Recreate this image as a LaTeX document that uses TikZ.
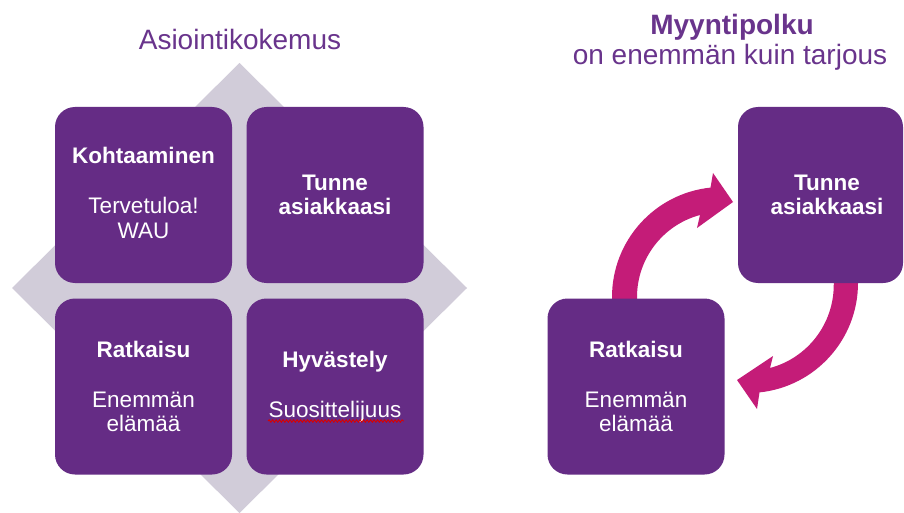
\documentclass[tikz,border=0pt]{standalone}
\usepackage{fontspec}
\setmainfont{Liberation Sans}
\usetikzlibrary{decorations.pathmorphing}
\definecolor{boxpurple}{RGB}{101,44,133}
\definecolor{titlepurple}{RGB}{105,52,140}
\definecolor{diamondgrey}{RGB}{209,204,217}
\definecolor{arrowmagenta}{RGB}{196,28,120}
\begin{document}
\begin{tikzpicture}[x=1pt,y=-1pt,
  box/.style={fill=boxpurple, rounded corners=20pt, minimum width=177pt, minimum height=176pt,
    inner sep=0pt, text=white, align=center, font=\fontsize{22.5}{24.5}\selectfont},
  boxtext/.style={inner sep=0pt, text=white, align=center, font=\fontsize{22.5}{24.5}\selectfont},
  title/.style={text=titlepurple, font=\fontsize{28}{32}\selectfont, anchor=base, inner sep=0pt},
  arrowfill/.style={fill=arrowmagenta},
  squiggle/.style={draw=red!85!black, line width=0.9pt, decorate, decoration={snake, amplitude=1.2pt, segment length=3.5pt}}]
\clip (0,0) rectangle (904,513);
\fill[white] (0,0) rectangle (904,513);

% ---------- left: Asiointikokemus ----------
\node[title] (asiointi) at (240,50) {Asiointikokemus};
\fill[diamondgrey] (239.5,63) -- (467,288) -- (239.5,513) -- (12,288) -- cycle;

\node[box] (kohtaaminen) at (143.5,195) {};
\node[boxtext] (kohtaamisentext) at (143.5,193) {\textbf{Kohtaaminen}\\[25.5pt]Tervetuloa!\\WAU};
\node[box] (tunne) at (335,195) {\textbf{Tunne}\\\textbf{asiakkaasi}};
\node[box] (ratkaisu) at (143.5,386.5) {\textbf{Ratkaisu}\\[25.5pt]Enemmän\\elämää};
\node[box] (hyvastely) at (335,386.5) {\textbf{Hyvästely}\\[25.5pt]Suosittelijuus};
\draw[squiggle] (268,421) -- (404,421);

% ---------- right: Myyntipolku ----------
\node[title, font=\fontsize{28}{32}\selectfont\bfseries] (myynti) at (732,35) {Myyntipolku};
\node[title] (onenemman) at (730,65) {on enemmän kuin tarjous};

\fill[arrowfill] (612,310) -- (612,297) arc[start angle=180, end angle=264, radius=110]
  -- (713,173) -- (733,202) -- (697,228) -- (700,215)
  arc[start angle=255, end angle=180, radius=85] -- (637,310) -- cycle;
\fill[arrowfill] (858,270) -- (858,283) arc[start angle=0, end angle=84, radius=110]
  -- (757,409) -- (737,380) -- (773,356) -- (770,368)
  arc[start angle=75, end angle=0, radius=86] -- (834,270) -- cycle;

\node[box] (ratkaisuR) at (636,386.5) {\textbf{Ratkaisu}\\[25.5pt]Enemmän\\elämää};
\node[box, minimum width=165pt] (tunneR) at (820.5,195) {};
\node[boxtext] (tunneRtext) at (827,195) {\textbf{Tunne}\\\textbf{asiakkaasi}};
\end{tikzpicture}
\end{document}
